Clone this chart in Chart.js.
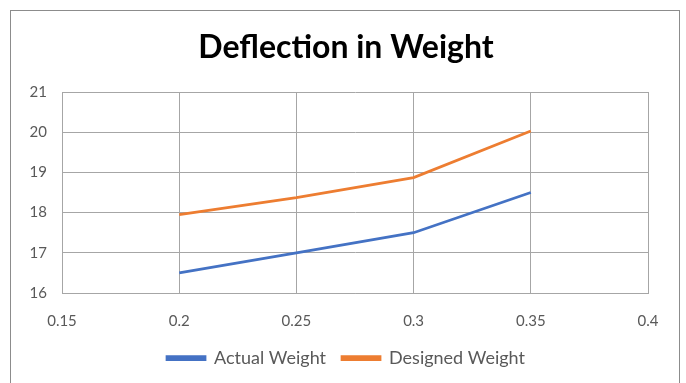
<!DOCTYPE html>
<html>
<head>
<meta charset="utf-8">
<script src="https://cdn.jsdelivr.net/npm/chart.js@4/dist/chart.umd.min.js"></script>
<style>
  html, body { margin: 0; padding: 0; background: #fff; }
  #wrap { position: relative; width: 686px; height: 383px; overflow: hidden; }
  #frame { position: absolute; left: 10px; top: 10px; width: 670px; height: 400px; border: 1px solid #8c8c8c; box-sizing: border-box; }
  canvas { position: absolute; left: 0; top: 0; }
</style>
</head>
<body>
<div id="wrap">
  <div id="frame"></div>
  <canvas id="c" width="686" height="383"></canvas>
</div>
<script>
// Deflection readings
const deflection = [0.2, 0.25, 0.3, 0.35];
const actualWeight = [16.5, 17.0, 17.5, 18.5];
const designedWeight = [17.95, 18.37, 18.87, 20.03];

// Axis tick labels
const xTicks = [0.15, 0.2, 0.25, 0.3, 0.35, 0.4];
const yTicks = [16, 17, 18, 19, 20, 21];

const FONT = 'Lato, "Open Sans", sans-serif';
const TICK_COLOR = '#595959';
const GRID_COLOR = '#a6a6a6';

const toPoints = (xs, ys) => xs.map((x, i) => ({ x: x, y: ys[i] }));

new Chart(document.getElementById('c'), {
  type: 'line',
  data: {
    datasets: [
      {
        label: 'Actual Weight',
        data: toPoints(deflection, actualWeight),
        borderColor: '#4472C4',
        backgroundColor: '#4472C4',
        borderWidth: 2.75,
        pointRadius: 0,
        tension: 0
      },
      {
        label: 'Designed Weight',
        data: toPoints(deflection, designedWeight),
        borderColor: '#ED7D31',
        backgroundColor: '#ED7D31',
        borderWidth: 2.75,
        pointRadius: 0,
        tension: 0
      }
    ]
  },
  options: {
    responsive: false,
    animation: false,
    layout: { padding: { left: 6, right: 0, top: 0, bottom: 6 } },
    scales: {
      x: {
        type: 'linear',
        min: xTicks[0],
        max: xTicks[xTicks.length - 1],
        afterBuildTicks: (s) => { s.ticks = xTicks.map(v => ({ value: v })); },
        afterFit: (s) => { s.height = 40; },
        border: { display: true, color: GRID_COLOR, width: 1 },
        grid: { color: GRID_COLOR, lineWidth: 1, drawTicks: false },
        ticks: {
          padding: 19,
          color: TICK_COLOR,
          font: { family: FONT, size: 15 },
          maxRotation: 0,
          autoSkip: false,
          callback: (v) => String(v)
        }
      },
      y: {
        min: yTicks[0],
        max: yTicks[yTicks.length - 1],
        afterBuildTicks: (s) => { s.ticks = yTicks.map(v => ({ value: v })); },
        afterFit: (s) => { s.width = 56; },
        border: { display: true, color: GRID_COLOR, width: 1 },
        grid: { color: GRID_COLOR, lineWidth: 1, drawTicks: false },
        ticks: {
          padding: 15,
          color: TICK_COLOR,
          font: { family: FONT, size: 15 },
          callback: (v) => String(v)
        }
      },
      // empty right-hand margin so the plot ends where the frame leaves room
      yRight: {
        position: 'right',
        display: true,
        min: yTicks[0],
        max: yTicks[yTicks.length - 1],
        afterFit: (s) => { s.width = 38; },
        border: { display: false },
        grid: { display: false, drawTicks: false },
        ticks: { display: false }
      }
    },
    plugins: {
      title: {
        display: true,
        text: 'Deflection in Weight',
        color: '#000',
        font: { family: FONT, size: 32, weight: 'bold' },
        padding: { top: 28, bottom: 25.6 }
      },
      legend: {
        position: 'bottom',
        labels: {
          color: TICK_COLOR,
          font: { family: FONT, size: 18 },
          boxWidth: 38,
          boxHeight: 3,
          padding: 16
        }
      },
      tooltip: { enabled: false }
    }
  }
});
</script>
</body>
</html>
